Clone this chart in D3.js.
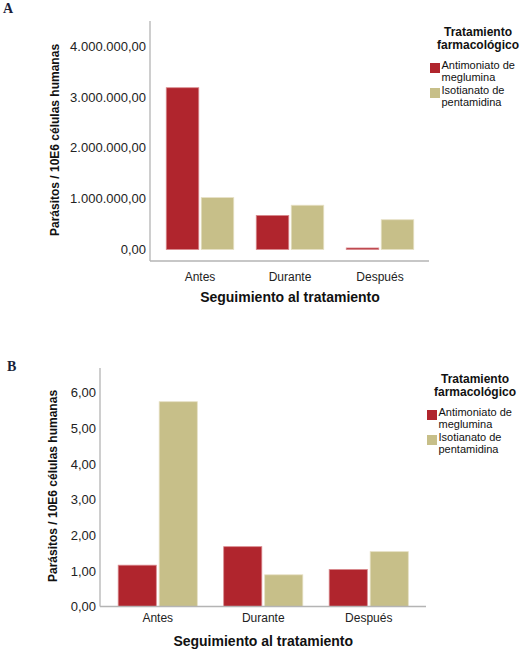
<!DOCTYPE html>
<html>
<head>
<meta charset="utf-8">
<script src="https://cdn.jsdelivr.net/npm/d3@7"></script>
<style>
  body { margin: 0; background: #fff; }
  svg { display: block; font-family: "Liberation Sans", Arial, sans-serif; }
</style>
</head>
<body>
<svg width="525" height="650"></svg>
<script>
const categories = ["Antes", "Durante", "Después"]
const seriesNames = ["Antimoniato de meglumina", "Isotianato de pentamidina"]
const legendLines = [["Antimoniato de", "meglumina"], ["Isotianato de", "pentamidina"]]

// panel A, parasites per 10E6 human cells
const antimoniatoA = [3180000, 670000, 30000]
const isotianatoA = [1020000, 870000, 585000]
const ticksA = [0, 1000000, 2000000, 3000000, 4000000]

// panel B
const antimoniatoB = [1.16, 1.68, 1.04]
const isotianatoB = [5.75, 0.89, 1.54]
const ticksB = [0, 1, 2, 3, 4, 5, 6]

const colours = ["#b0252d", "#c7bf89"]
const strokes = ["#d98a8e", "#e6e0c4"]

const locale = d3.formatLocale({decimal: ",", thousands: ".", grouping: [3], currency: ["", ""]})
const fmt = locale.format(",.2f")

const svg = d3.select("svg")

function drawChart(opt) {
  const g = svg.append("g")

  const x = d3.scaleBand().domain(categories).range([opt.bandLeft, opt.bandRight]).paddingInner(0.25).paddingOuter(0.125)
  const xs = d3.scaleBand().domain([0, 1]).range([0, x.bandwidth()]).paddingInner(0.07)
  const y = d3.scaleLinear().domain([0, opt.yMaxTick]).range([opt.zeroY, opt.topTickY])

  const rows = categories.map((c, i) => ({cat: c, vals: [opt.s1[i], opt.s2[i]]}))

  // bars
  g.append("g").selectAll("g")
    .data(rows)
    .enter().append("g")
    .attr("transform", d => `translate(${x(d.cat)},0)`)
    .selectAll("rect")
    .data(d => d.vals.map((v, k) => ({v, k})))
    .enter().append("rect")
    .attr("x", d => xs(d.k))
    .attr("width", xs.bandwidth())
    .attr("y", d => y(d.v))
    .attr("height", d => y(0) - y(d.v))
    .attr("fill", d => colours[d.k])
    .attr("stroke", d => strokes[d.k])
    .attr("stroke-width", 0.8)

  // axis lines
  g.append("line")
    .attr("x1", opt.axisX).attr("x2", opt.axisX)
    .attr("y1", opt.axisTop).attr("y2", opt.axisBottom)
    .attr("stroke", "#b4b4b4").attr("stroke-width", 1.3)
  g.append("line")
    .attr("x1", opt.axisX).attr("x2", opt.axisRight)
    .attr("y1", opt.axisBottom).attr("y2", opt.axisBottom)
    .attr("stroke", "#b4b4b4").attr("stroke-width", 1.3)

  // y ticks
  const yAxis = g.append("g")
    .attr("transform", `translate(${opt.axisX - 4},0)`)
    .call(d3.axisLeft(y).tickValues(opt.ticks).tickFormat(fmt).tickSize(0).tickPadding(0))
  yAxis.select(".domain").remove()
  yAxis.selectAll("text")
    .attr("font-family", "Liberation Sans, Arial, sans-serif")
    .attr("font-size", 13)
    .attr("fill", "#222")

  // x ticks
  const xAxis = g.append("g")
    .attr("transform", `translate(0,${opt.axisBottom})`)
    .call(d3.axisBottom(x).tickSize(0).tickPadding(opt.xTickPad))
  xAxis.select(".domain").remove()
  xAxis.selectAll("text")
    .attr("font-family", "Liberation Sans, Arial, sans-serif")
    .attr("font-size", 12)
    .attr("fill", "#222")

  // titles
  g.append("text")
    .attr("x", (opt.bandLeft + opt.bandRight) / 2)
    .attr("y", opt.xTitleY)
    .attr("text-anchor", "middle")
    .attr("font-size", 14).attr("font-weight", "bold").attr("fill", "#111")
    .text("Seguimiento al tratamiento")

  g.append("text")
    .attr("transform", `translate(${opt.yTitleX},${opt.yTitleY}) rotate(-90)`)
    .attr("text-anchor", "middle")
    .attr("font-size", 12).attr("font-weight", "bold").attr("fill", "#111")
    .text("Parásitos / 10E6 células humanas")

  // panel letter
  g.append("text")
    .attr("x", opt.letterX).attr("y", opt.letterY)
    .attr("font-family", "Liberation Serif, Times New Roman, serif")
    .attr("font-size", 14).attr("font-weight", "bold").attr("fill", "#1a1f3a")
    .text(opt.letter)

  // legend
  const lg = g.append("g").attr("transform", `translate(${opt.legX},${opt.legY})`)
  lg.append("text")
    .attr("text-anchor", "middle")
    .attr("font-size", 12).attr("font-weight", "bold").attr("fill", "#111")
    .selectAll("tspan")
    .data(["Tratamiento", "farmacológico"])
    .enter().append("tspan")
    .attr("x", 48).attr("y", (d, i) => i * 12.5)
    .text(d => d)

  const item = lg.selectAll("g.item")
    .data(seriesNames)
    .enter().append("g").attr("class", "item")
    .attr("transform", (d, i) => `translate(0,${33 + i * 25})`)
  item.append("rect")
    .attr("x", 0).attr("y", -6)
    .attr("width", 10).attr("height", 10)
    .attr("fill", (d, i) => colours[i])
  item.append("text")
    .attr("font-size", 11).attr("fill", "#111")
    .selectAll("tspan")
    .data((d, i) => legendLines[i])
    .enter().append("tspan")
    .attr("x", 11.5).attr("y", (d, j) => j * 11.5)
    .text(d => d)
}

drawChart({
  letter: "A", letterX: 3, letterY: 13,
  s1: antimoniatoA, s2: isotianatoA, ticks: ticksA, yMaxTick: 4000000,
  zeroY: 249.5, topTickY: 46,
  axisX: 150, axisTop: 21, axisBottom: 261, axisRight: 429,
  bandLeft: 155, bandRight: 425, xTickPad: 11,
  xTitleY: 302, yTitleX: 59, yTitleY: 140,
  legX: 430, legY: 36
})

drawChart({
  letter: "B", letterX: 7, letterY: 371,
  s1: antimoniatoB, s2: isotianatoB, ticks: ticksB, yMaxTick: 6,
  zeroY: 606.5, topTickY: 392.8,
  axisX: 100, axisTop: 368, axisBottom: 606.5, axisRight: 426,
  bandLeft: 105, bandRight: 421.5, xTickPad: 7,
  xTitleY: 646, yTitleX: 57, yTitleY: 486,
  legX: 427, legY: 383
})
</script>
</body>
</html>
